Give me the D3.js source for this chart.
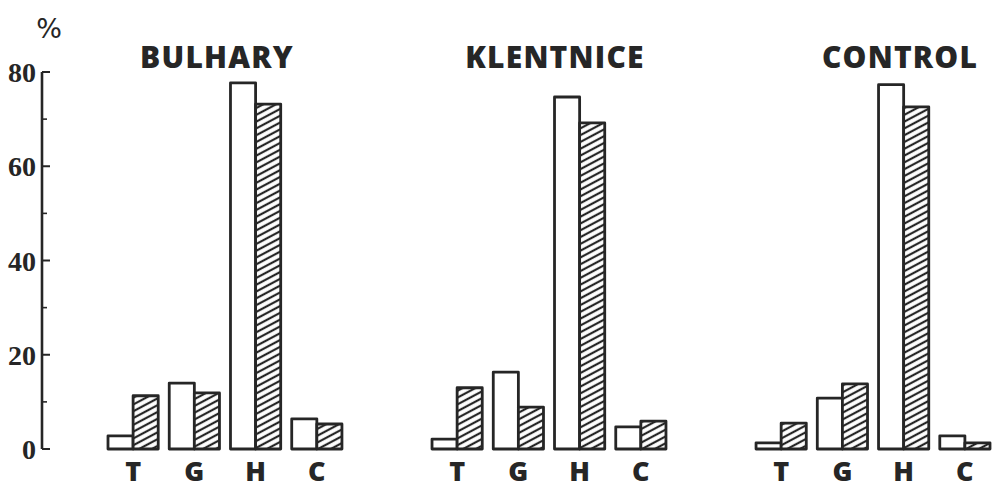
<!DOCTYPE html>
<html><head><meta charset="utf-8">
<script src="https://cdn.jsdelivr.net/npm/d3@7"></script>
<style>body{margin:0;background:#fff}svg{display:block}</style>
</head><body>
<script>
const groups = ["BULHARY", "KLENTNICE", "CONTROL"];
const categories = ["T", "G", "H", "C"];
const series = ["open", "hatched"];
const openValues = {
  BULHARY:   [2.8, 14.0, 77.7, 6.4],
  KLENTNICE: [2.1, 16.3, 74.7, 4.7],
  CONTROL:   [1.3, 10.8, 77.3, 2.8]
};
const hatchedValues = {
  BULHARY:   [11.3, 11.9, 73.2, 5.3],
  KLENTNICE: [13.0, 8.9, 69.2, 5.9],
  CONTROL:   [5.5, 13.8, 72.6, 1.3]
};
const majorTicks = [0, 20, 40, 60, 80];
const minorTicks = [10, 30, 50, 70];

// layout constants (not data)
const W = 992, H = 490;
const ink = "#262626";
const titleShift = { BULHARY: -8, KLENTNICE: 6, CONTROL: 27 };

const svg = d3.select("body").append("svg").attr("width", W).attr("height", H);

const defs = svg.append("defs");
const pat = defs.append("pattern").attr("id", "hatch")
  .attr("patternUnits", "userSpaceOnUse").attr("width", 8).attr("height", 6)
  .attr("patternTransform", "rotate(-28)");
pat.append("rect").attr("width", 8).attr("height", 6).attr("fill", "#fff");
pat.append("line").attr("x1", 0).attr("x2", 8).attr("y1", 3).attr("y2", 3)
  .attr("stroke", ink).attr("stroke-width", 2.2);

const y = d3.scaleLinear().domain([0, 80]).range([449, 72]);
const x0 = d3.scaleBand().domain(groups).range([108, 990]).paddingInner(0.278).paddingOuter(0);
const x1 = d3.scaleBand().domain(categories).range([0, x0.bandwidth()]).paddingInner(0.18).paddingOuter(0);
const x2 = d3.scaleBand().domain(series).range([0, x1.bandwidth()]);

// Y axis
const axisX = 42;
const ax = svg.append("g").attr("transform", `translate(${axisX},0)`);
ax.append("line").attr("x1", 0).attr("x2", 0).attr("y1", y(80)).attr("y2", y(0))
  .attr("stroke", ink).attr("stroke-width", 2.6);
ax.selectAll(".maj").data(majorTicks).join("line")
  .attr("x1", 0).attr("x2", 8).attr("y1", d => y(d)).attr("y2", d => y(d))
  .attr("stroke", ink).attr("stroke-width", 2);
ax.selectAll(".min").data(minorTicks).join("line")
  .attr("x1", 0).attr("x2", 5).attr("y1", d => y(d)).attr("y2", d => y(d))
  .attr("stroke", ink).attr("stroke-width", 1.6);
ax.selectAll("text").data(majorTicks).join("text")
  .attr("x", -6).attr("y", d => y(d)).attr("dy", "0.36em")
  .attr("text-anchor", "end")
  .attr("font-family", "Liberation Serif, serif").attr("font-weight", "bold")
  .attr("font-size", 28).attr("fill", ink).text(d => d);

svg.append("text").attr("x", 49).attr("y", 38).attr("text-anchor", "middle")
  .attr("font-family", "DejaVu Sans, sans-serif").attr("font-size", 27)
  .attr("fill", ink).text("%");

// Groups
groups.forEach(g => {
  const gx = x0(g);
  const gg = svg.append("g").attr("transform", `translate(${gx},0)`);
  gg.append("text").attr("x", x0.bandwidth() / 2 + titleShift[g]).attr("y", 68)
    .attr("text-anchor", "middle")
    .attr("font-family", "Open Sans, sans-serif").attr("font-weight", 800)
    .attr("font-size", 30).attr("letter-spacing", 1.2).attr("fill", ink).text(g);
  categories.forEach((c, i) => {
    const cx = x1(c);
    const vals = [openValues[g][i], hatchedValues[g][i]];
    series.forEach((s, j) => {
      gg.append("rect")
        .attr("x", cx + x2(s))
        .attr("y", y(vals[j]))
        .attr("width", x2.bandwidth())
        .attr("height", y(0) - y(vals[j]))
        .attr("fill", s === "open" ? "#fff" : "url(#hatch)")
        .attr("stroke", ink).attr("stroke-width", 2.8)
        .attr("stroke-linejoin", "round");
    });
    gg.append("text").attr("x", cx + x1.bandwidth() / 2).attr("y", 481)
      .attr("text-anchor", "middle")
      .attr("font-family", "Open Sans, sans-serif").attr("font-weight", 800)
      .attr("font-size", 27).attr("fill", ink).text(c);
  });
});
</script>
</body></html>
